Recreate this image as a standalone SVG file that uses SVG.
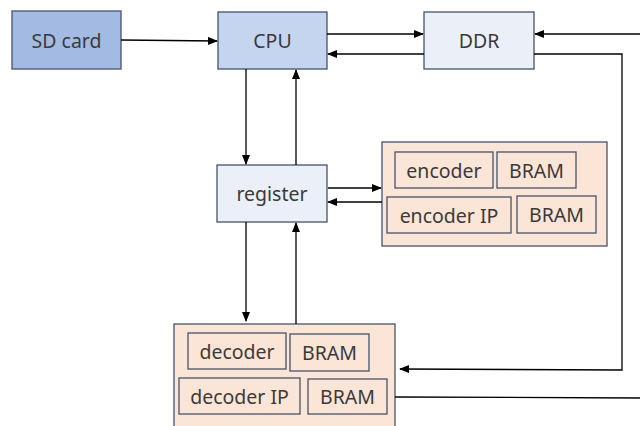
<svg xmlns="http://www.w3.org/2000/svg" width="640" height="426" viewBox="0 0 640 426">
<defs>
<marker id="ah" markerWidth="10" markerHeight="8" refX="9" refY="4" orient="auto" markerUnits="userSpaceOnUse">
<path d="M0,0 L10,4 L0,8 z" fill="#000"/>
</marker>
<style>
.box{stroke:#44546a;stroke-width:1.3}
.t{font-family:"Noto Sans","DejaVu Sans",sans-serif;font-size:19.5px;fill:#3a3a3a;text-anchor:middle;dominant-baseline:central}
.c{fill:none;stroke:#000;stroke-width:1.3}
.peach{fill:#fbe5d6}
</style>
</defs>
<rect width="640" height="426" fill="#fff"/>
<g id="sdcard"><rect class="box" x="12" y="11" width="109" height="58" fill="#a3bae2"/><text class="t" x="66.5" y="40">SD card</text></g>
<g id="cpu"><rect class="box" x="218" y="12" width="109" height="57" fill="#c6d5ef"/><text class="t" x="272.5" y="40.5">CPU</text></g>
<g id="ddr"><rect class="box" x="424" y="12" width="110" height="57" fill="#eaeff8"/><text class="t" x="479" y="40.5">DDR</text></g>
<g id="register"><rect class="box" x="217" y="165" width="110" height="57" fill="#eaeff8"/><text class="t" x="272" y="193.5">register</text></g>
<g id="encoder-group">
<rect class="box peach" x="382" y="142" width="225" height="104"/>
<g id="encoder"><rect class="box peach" x="395" y="152" width="98" height="36"/><text class="t" x="444" y="170">encoder</text></g>
<g id="bram-e1"><rect class="box peach" x="497" y="152" width="79" height="36"/><text class="t" x="536.5" y="170">BRAM</text></g>
<g id="encoder-ip"><rect class="box peach" x="387" y="197" width="124" height="36"/><text class="t" x="449" y="215">encoder IP</text></g>
<g id="bram-e2"><rect class="box peach" x="517" y="196" width="79" height="37"/><text class="t" x="556.5" y="214.5">BRAM</text></g>
</g>
<g id="decoder-group">
<rect class="box peach" x="174" y="324" width="221" height="110"/>
<g id="decoder"><rect class="box peach" x="188" y="333" width="98" height="36"/><text class="t" x="237" y="351">decoder</text></g>
<g id="bram-d1"><rect class="box peach" x="290" y="334" width="79" height="37"/><text class="t" x="329.5" y="352.5">BRAM</text></g>
<g id="decoder-ip"><rect class="box peach" x="179" y="378" width="121" height="36"/><text class="t" x="239.5" y="396">decoder IP</text></g>
<g id="bram-d2"><rect class="box peach" x="308" y="379" width="79" height="35"/><text class="t" x="347.5" y="396.5">BRAM</text></g>
</g>
<g id="connectors">
<path class="c" d="M121,40 L217,41" marker-end="url(#ah)"/>
<path class="c" d="M327,34 L423,34" marker-end="url(#ah)"/>
<path class="c" d="M424,54 L328,54" marker-end="url(#ah)"/>
<path class="c" d="M640,34 L535,34" marker-end="url(#ah)"/>
<path class="c" d="M534,54 L622,54 L622,370 L400,369" marker-end="url(#ah)"/>
<path class="c" d="M395,397 L640,398"/>
<path class="c" d="M246,69 L246,164" marker-end="url(#ah)"/>
<path class="c" d="M296,165 L296,70" marker-end="url(#ah)"/>
<path class="c" d="M328,188 L381,188" marker-end="url(#ah)"/>
<path class="c" d="M382,202 L328,202" marker-end="url(#ah)"/>
<path class="c" d="M246,222 L246,321" marker-end="url(#ah)"/>
<path class="c" d="M296,324 L296,223" marker-end="url(#ah)"/>
</g>
</svg>
